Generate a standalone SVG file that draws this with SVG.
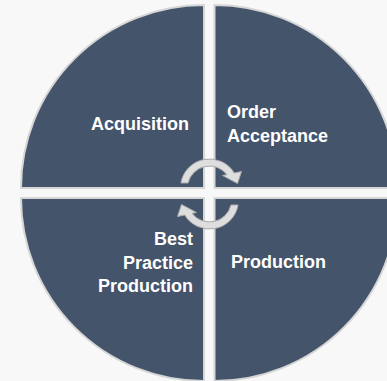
<svg xmlns="http://www.w3.org/2000/svg" width="387" height="381" viewBox="0 0 387 381">
<style>
.q{fill:#44546a;stroke:#d6d6d6;stroke-width:2}
.t{font-family:"Liberation Sans",Arial,sans-serif;font-weight:bold;font-size:18px;fill:#ffffff}
.e{text-anchor:end}
.arr{fill:#dedede;stroke:#a9a9a9;stroke-width:1;stroke-linejoin:round}
</style>
<rect width="387" height="381" fill="#f8f8f8"/>
<g id="acquisition">
<path class="q" d="M204,188 L21,188 A183,183 0 0 1 204,5 Z"/>
<text class="t e" x="189" y="130">Acquisition</text>
</g>
<g id="order-acceptance">
<path class="q" d="M214.5,188 L214.5,5 A183,183 0 0 1 397.5,188 Z"/>
<text class="t" x="227" y="118">Order</text>
<text class="t" x="227" y="142">Acceptance</text>
</g>
<g id="best-practice-production">
<path class="q" d="M204,198 L204,381 A183,183 0 0 1 21,198 Z"/>
<text class="t e" x="193" y="245">Best</text>
<text class="t e" x="193" y="268.5">Practice</text>
<text class="t e" x="193" y="292">Production</text>
</g>
<g id="production">
<path class="q" d="M214.5,198 L397.5,198 A183,183 0 0 1 214.5,381 Z"/>
<text class="t" x="231" y="268">Production</text>
</g>
<g id="connectors">
<path class="arr" d="M180.9,183 A29,29 0 0 1 234.3,173.0 L241.5,171.5 L237.5,183.5 L222.5,175.5 L226.9,174.6 A22,22 0 0 0 188.1,183 Z"/>
<path class="arr" transform="rotate(180 209.5 194)" d="M180.9,183 A29,29 0 0 1 234.3,173.0 L241.5,171.5 L237.5,183.5 L222.5,175.5 L226.9,174.6 A22,22 0 0 0 188.1,183 Z"/>
</g>
</svg>
